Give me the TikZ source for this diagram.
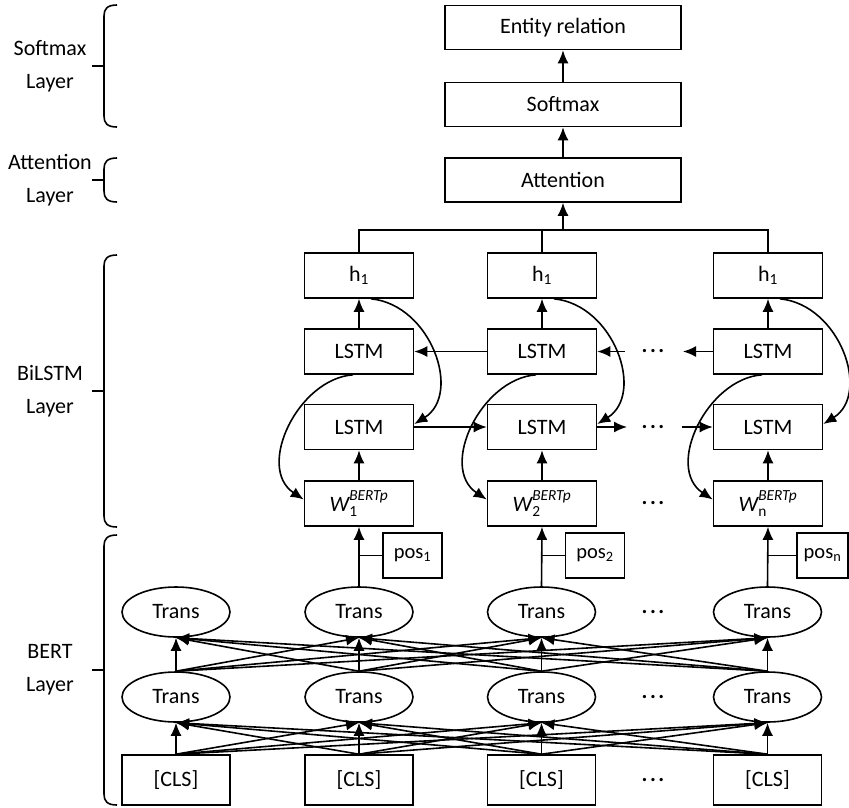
\documentclass[tikz,border=0pt]{standalone}
\usepackage{fontspec}
\usepackage{amsmath}
\setmainfont{Carlito}
\usetikzlibrary{arrows.meta,shapes.geometric,calc}
\begin{document}
\begin{tikzpicture}[x=1pt,y=-1pt,
  every node/.style={font=\fontsize{22pt}{33pt}\selectfont, inner sep=0pt},
  box/.style={draw, line width=1.6pt, rectangle, minimum width=109pt, minimum height=45pt},
  wide/.style={box, minimum width=236pt, minimum height=44pt},
  tr/.style={draw, line width=1.6pt, ellipse, minimum width=108pt, minimum height=50pt},
  cls/.style={box, minimum width=108pt, minimum height=50pt},
  posbox/.style={box, minimum width=59pt, minimum height=45pt, font=\fontsize{20.5pt}{24pt}\selectfont},
  arr/.style={line width=1.6pt, -{Latex[length=13pt,width=11pt]}},
  ln/.style={line width=1.6pt},
  lbl/.style={align=center},
  dotsn/.style={font=\fontsize{22pt}{24pt}\selectfont\bfseries}
]
\useasboundingbox (0,0) rectangle (849,807);

% top stack
\node[wide] (ent) at (563,27.5) {Entity relation};
\node[wide] (soft) at (563,104.5) {Softmax};
\node[wide] (att) at (563,180) {Attention};
\draw[arr] (soft) -- (ent);
\draw[arr] (att) -- (soft);

% BiLSTM columns
\foreach \i/\x/\s in {1/359/1,2/542/2,3/768/n}{
  \node[box] (h\i) at (\x,275.5) {h$_{\text{1}}$};
  \node[box] (lt\i) at (\x,351.5) {LSTM};
  \node[box] (lb\i) at (\x,427) {LSTM};
  \node[box] (w\i) at (\x,503.5) {$\textit{W}_{\text{\s}}^{\text{\raisebox{2.5pt}{\textit{BERTp}}}}$};
  \draw[arr] (lt\i.north) -- (h\i.south);
  \draw[arr] (w\i.north) -- (lb\i.south);
  \draw[arr] ([xshift=12pt]h\i.south) .. controls +(60,6) and +(48,-30) .. ([yshift=3pt]lb\i.east);
  \draw[arr] ([xshift=-6pt]lt\i.south) .. controls +(-55,4) and +(-48,-32) .. ([yshift=4pt]w\i.west);
}
\node[posbox] (pos1) at (412.5,555.5) {pos$_{\text{1}}$};
\node[posbox] (pos2) at (595,555.5) {pos$_{\text{2}}$};
\node[posbox, minimum width=51pt] (pos3) at (822.5,555.5) {pos$_{\text{n}}$};

% bus to attention
\coordinate (bus) at (563,230);
\draw[ln] (h1.north) |- (bus) -| (h3.north);
\draw[ln] (h2.north) -- (h2.north |- bus);
\draw[arr] (bus) -- (att.south);

% recurrent arrows
\draw[arr] (lt2.west) -- (lt1.east);
\coordinate (a1) at (625,351.5);
\draw[arr] (a1) -- (lt2.east);
\node[dotsn] (d1) at (653,351.5) {.\hspace{2.5pt}.\hspace{2.5pt}.};
\coordinate (a2) at (683,351.5);
\draw[arr] (lt3.west) -- (a2);

\draw[arr] (lb1.east) -- (lb2.west);
\coordinate (a3) at (627,427);
\draw[arr] (lb2.east) -- (a3);
\node[dotsn] (d2) at (653,427) {.\hspace{2.5pt}.\hspace{2.5pt}.};
\coordinate (a4) at (682,427);
\draw[arr] (a4) -- (lb3.west);

\node[dotsn] (d3) at (653,503.5) {.\hspace{2.5pt}.\hspace{2.5pt}.};

% BERT
\foreach \j/\x in {1/176,2/359,3/541.5,4/767.5}{
  \node[tr] (tt\j) at (\x,612) {Trans};
  \node[tr] (tb\j) at (\x,697) {Trans};
  \node[cls] (c\j) at (\x,780) {[CLS]};
}
\node[dotsn] (d4) at (653,612) {.\hspace{2.5pt}.\hspace{2.5pt}.};
\node[dotsn] (d5) at (653,697) {.\hspace{2.5pt}.\hspace{2.5pt}.};
\node[dotsn] (d6) at (653,780) {.\hspace{2.5pt}.\hspace{2.5pt}.};

\foreach \i in {1,...,4}{
  \foreach \j in {1,...,4}{
    \draw[arr] (c\i.north) -- (tb\j.south);
    \draw[arr] (tb\i.north) -- (tt\j.south);
  }
}

% to W
\draw[arr] (tt2.north) -- (w1.south);
\draw[arr] (tt3.north) -- (w2.south);
\draw[arr] (tt4.north) -- (w3.south);
\draw[ln] (pos1.west) -- (pos1.west -| w1.south);
\draw[ln] (pos2.west) -- (pos2.west -| w2.south);
\draw[ln] (pos3.west) -- (pos3.west -| w3.south);

% braces
\foreach \t/\b in {5/127,158/202,255/527,535/805}{
  \draw[ln] (117,\t) .. controls (107,\t) and (104,\t+4) .. (104,\t+11) -- (104,\b-11) .. controls (104,\b-4) and (107,\b) .. (117,\b);
  \draw[ln] (92,{(\t+\b)/2}) -- (104,{(\t+\b)/2});
}
\node[lbl] (L1) at (50,66) {Softmax\\Layer};
\node[lbl] (L2) at (50,180) {Attention\\Layer};
\node[lbl] (L3) at (50,391) {BiLSTM\\Layer};
\node[lbl] (L4) at (50,670) {BERT\\Layer};
\end{tikzpicture}
\end{document}
